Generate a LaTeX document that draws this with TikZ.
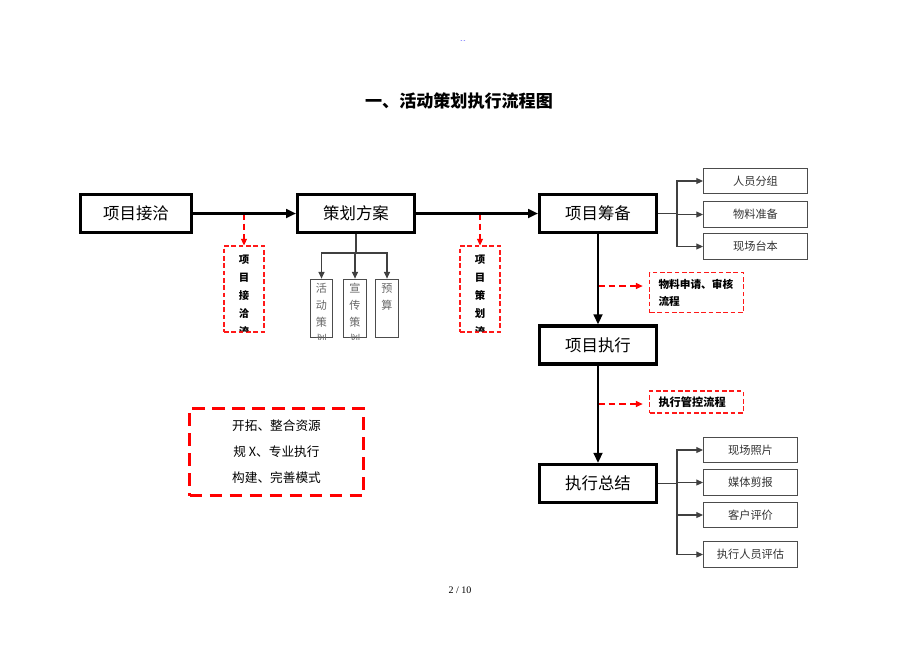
\documentclass[tikz,border=0pt]{standalone}
\usepackage{fontspec}
\setmainfont{Liberation Serif}
\newfontfamily\cjk{Noto Sans CJK SC}
\usepackage{tikz}
\usetikzlibrary{calc}
\usetikzlibrary{arrows.meta}
\tikzset{mainbox/.style={draw, line width=2.4pt, minimum width=87.5pt, minimum height=28.5pt,
    inner sep=0pt, font=\cjk\fontsize{12.3}{14}\selectfont},
subbox/.style={draw=black!70, line width=0.8pt, minimum width=78pt, minimum height=19pt,
    inner sep=0pt, text=black!80, font=\cjk\fontsize{8.4}{10}\selectfont},
gbox/.style={draw=black!70, line width=0.8pt, minimum width=17pt, minimum height=44pt, inner sep=0pt},
gtext/.style={align=center, inner sep=0pt, text=black!60, font=\cjk\fontsize{8.3}{12.75}\selectfont},
redbox/.style={draw=red!90, line width=0.8pt, dash pattern=on 3.5pt off 2pt, inner sep=0pt},
rtext/.style={align=center, inner sep=0pt, font=\cjk\bfseries\fontsize{7.8}{13.5}\selectfont},
bigarrow/.style={line width=2.2pt, -{Triangle[length=7.5pt,width=6.5pt]}},
thinline/.style={draw=black!75, line width=0.8pt},
thinarrow/.style={thinline, -{Triangle[length=5pt,width=4.5pt]}},
redarrow/.style={draw=red, line width=0.8pt, dash pattern=on 5pt off 3pt,
    -{Triangle[length=5pt,width=4.5pt]}},
}

\begin{document}
\begin{tikzpicture}[x=0.75pt,y=-0.75pt]
\useasboundingbox (0,0) rectangle (920,651);
\node[text=blue, font=\fontsize{4}{4}\selectfont] (mk) at (463,42) {- -};
\node[font=\cjk\bfseries\fontsize{12.8}{14}\selectfont] (ttl) at (459,101) {一、活动策划执行流程图};

% main chain
\node[mainbox, minimum width=83pt] (a1) at (136,213.5) {项目接洽};
\node[mainbox] (a2) at (356,213.5) {策划方案};
\node[mainbox] (a3) at (598,213.5) {项目筹备};
\node[mainbox] (a4) at (598,345) {项目执行};
\node[mainbox] (a5) at (598,483.5) {执行总结};

% red side notes
\node[redbox, minimum width=30pt, minimum height=64.5pt] (f1) at (244,289) {};
\node[redbox, minimum width=30pt, minimum height=64.5pt] (f2) at (480,289) {};
\foreach \n/\txt in {f1/{项\\目\\接\\洽\\流},f2/{项\\目\\策\\划\\流}}{
  \begin{scope}
  \clip ([xshift=0.6pt,yshift=0.6pt]\n.south west) rectangle ([xshift=-0.6pt,yshift=-0.6pt]\n.north east);
  \node[rtext, anchor=north] at ([yshift=-7pt]\n.north) {\txt};
  \end{scope}
}
\node[redbox, minimum width=69.5pt, minimum height=30.5pt, inner xsep=6.5pt, text width=57pt, align=left,
  font=\cjk\bfseries\fontsize{8}{12.75}\selectfont] (r1) at (696.5,292.5) {物料申请、审核\\流程};
\node[redbox, minimum width=69.5pt, minimum height=16.5pt, inner xsep=6.5pt, text width=57pt, align=left,
  font=\cjk\bfseries\fontsize{8.4}{10}\selectfont] (r2) at (696.5,402) {执行管控流程};

\coordinate (p1) at (244,213);
\coordinate (p2) at (480,213);
\coordinate (p3) at (598,286);
\coordinate (p4) at (598,404);
\draw[redarrow] (p1) -- (f1.north);
\draw[redarrow] (p2) -- (f2.north);
\draw[redarrow, shorten >=5pt] (p3) -- (p3 -| r1.west);
\draw[redarrow, shorten >=5pt] (p4) -- (p4 -| r2.west);

\draw[bigarrow] (a1) -- (a2);
\draw[bigarrow] (a2) -- (a3);
\draw[bigarrow] (a3) -- (a4);
\draw[bigarrow] (a4) -- (a5);

% plan parts
\coordinate (jb) at (356,253);
\draw[thinline] (a2.south) -- (jb);
\foreach \n/\x/\txt in {g1/321.5/{活\\动\\策\\划},g2/355/{宣\\传\\策\\划},g3/387/{预\\算}}{
  \node[gbox] (\n) at (\x,308.5) {};
  \begin{scope}
  \clip ([yshift=-0.5pt]\n.south west) rectangle ([yshift=-0.5pt]\n.north east);
  \node[gtext, anchor=north] at ([yshift=-3.5pt]\n.north) {\txt};
  \end{scope}
  \draw[thinarrow] (jb) -| (\n.north);
}

% preparation items
\foreach \n/\y/\txt in {s1/181/人员分组,s2/214.5/物料准备,s3/246.5/现场台本}
  \node[subbox] (\n) at (755.5,\y) {\txt};
\coordinate (ja) at (677,213.5);
\draw[thinline] (a3.east) -- (ja);
\foreach \n in {s1,s2,s3}
  \draw[thinarrow] (ja) |- (\n.west);

% summary items
\foreach \n/\y/\txt in {t1/450/现场照片,t2/482.5/媒体剪报,t3/515/客户评价,t4/554.5/执行人员评估}
  \node[subbox, minimum width=70.5pt] (\n) at (750.5,\y) {\txt};
\coordinate (jc) at (677,483.5);
\draw[thinline] (a5.east) -- (jc);
\foreach \n in {t1,t2,t3,t4}
  \draw[thinarrow] (jc) |- (\n.west);

% big note
\node[draw=red, line width=2pt, dash pattern=on 9.5pt off 5.5pt, minimum width=130.5pt, minimum height=65.5pt,
  align=center, font=\cjk\fontsize{9.5}{19.5}\selectfont] (m) at (276.5,452)
  {开拓、整合资源\\规 X、专业执行\\构建、完善模式};

\node[font=\fontsize{7.5}{9}\selectfont] (pg) at (460,590) {2 / 10};
%\draw[help lines] (0,0) grid[step=50] (920,651);
\end{tikzpicture}
\end{document}
